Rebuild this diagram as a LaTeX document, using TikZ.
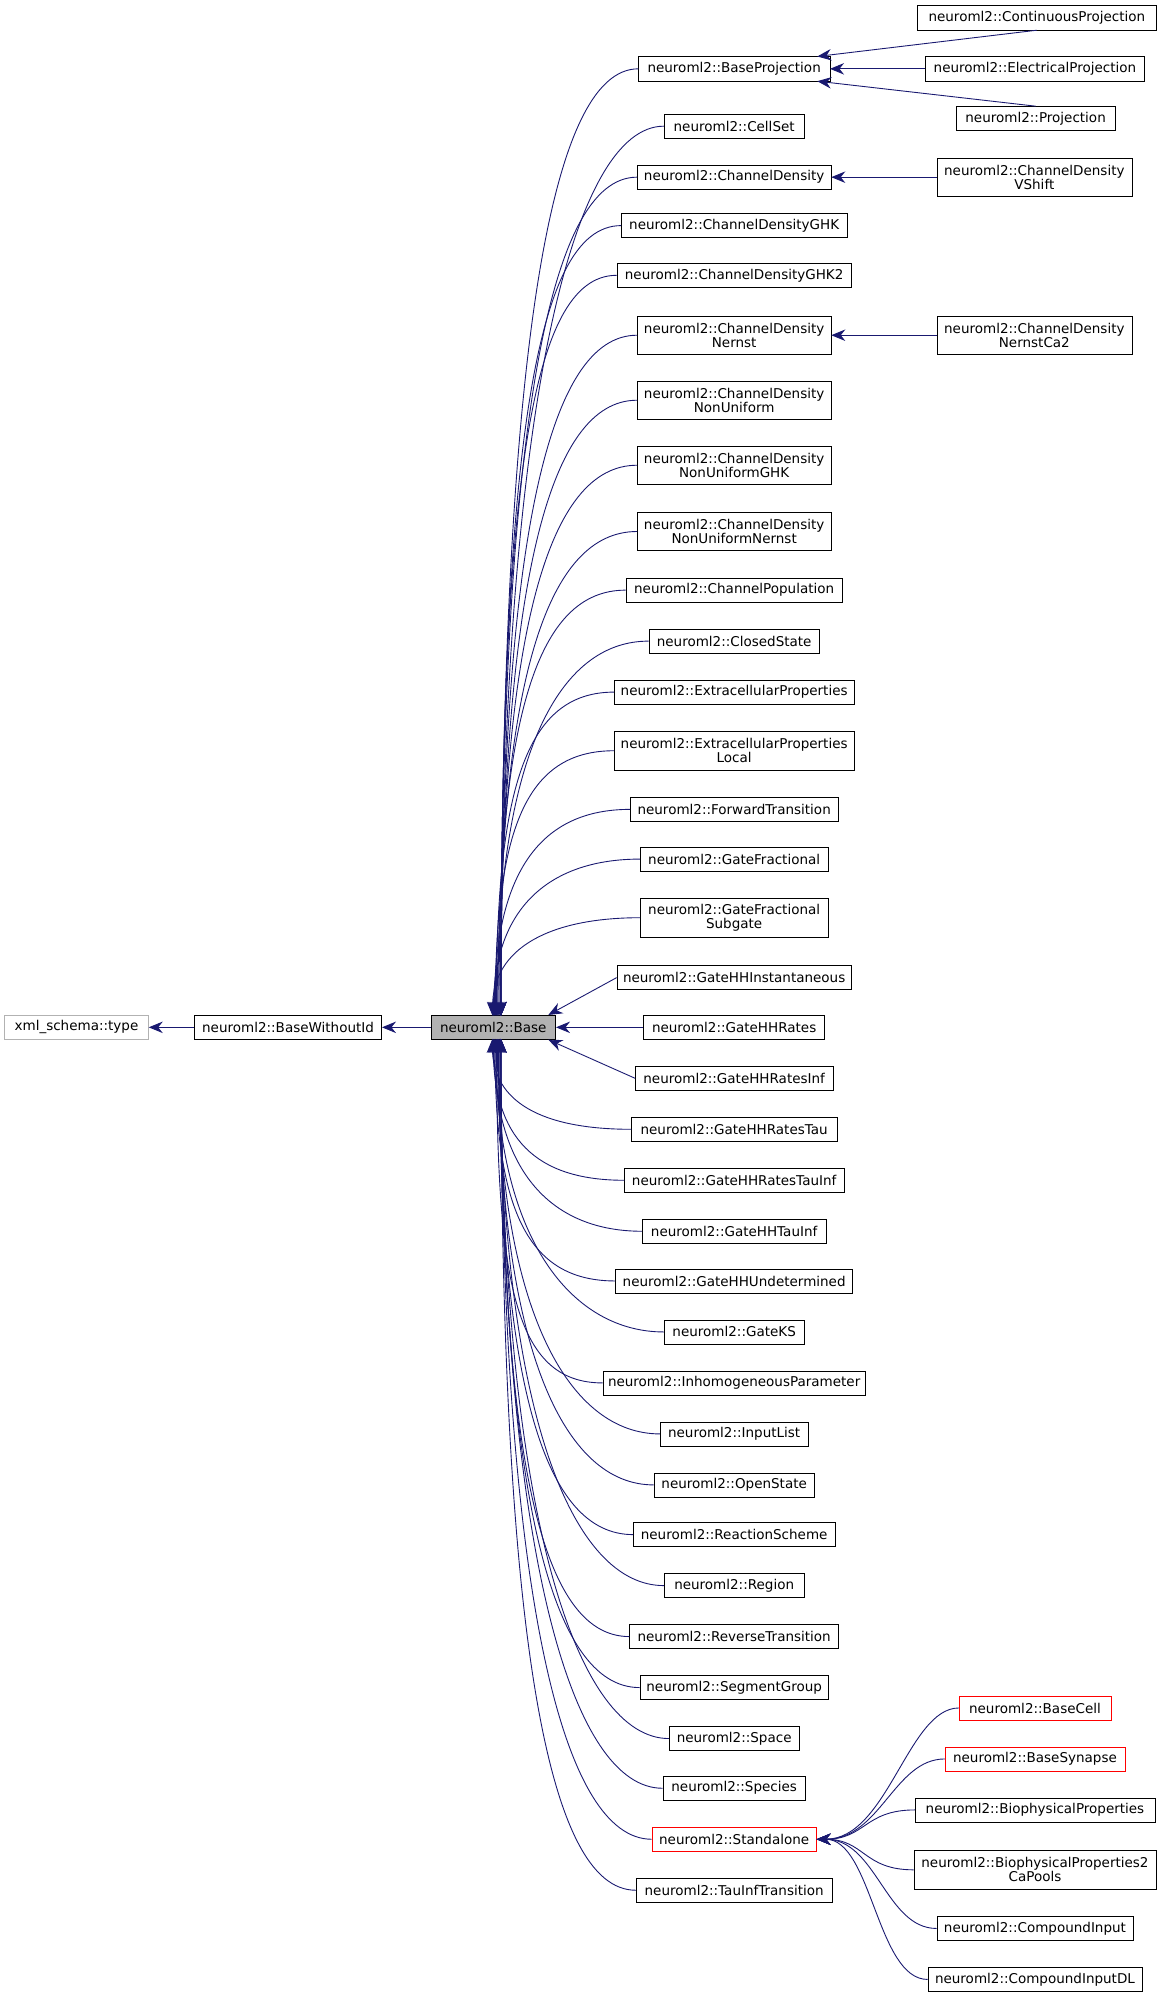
\documentclass[tikz,border=0pt]{standalone}
\usepackage{fontspec}
\setmainfont{DejaVu Sans}
\usetikzlibrary{arrows.meta}
\definecolor{edgec}{RGB}{25,25,112}
\begin{document}
\begin{tikzpicture}[x=1pt,y=-1pt,
  box/.style={draw=black,fill=white,inner sep=0pt,minimum height=19pt,align=center,font=\fontsize{10.6}{11}\selectfont},
  boxtwo/.style={box,minimum height=30pt},
  redbox/.style={box,draw=red},
  arr/.style={draw=edgec,line width=0.7pt,{Stealth[length=11pt,width=9pt]}-}]
\useasboundingbox (0,0) rectangle (910,1566);
\node[box,draw=gray!60,minimum width=113pt] (xml) at (60,806) {xml\_schema::type};
\node[box,minimum width=147pt] (bwi) at (226,806) {neuroml2::BaseWithoutId};
\node[box,fill=gray!60,minimum width=98pt] (base) at (387,806) {neuroml2::Base};
\draw[arr] (xml) -- (bwi);
\draw[arr] (bwi) -- (base);
\foreach \n/\y/\w/\s/\t in {
 bp/54/150/box/{neuroml2::BaseProjection},
 cs/99/110/box/{neuroml2::CellSet},
 cd/139/152/box/{neuroml2::ChannelDensity},
 cdg/177/177/box/{neuroml2::ChannelDensityGHK},
 cdg2/216/184/box/{neuroml2::ChannelDensityGHK2},
 cdn/263/152/boxtwo/{neuroml2::ChannelDensity\\Nernst},
 cdnu/314/152/boxtwo/{neuroml2::ChannelDensity\\NonUniform},
 cdnug/365/152/boxtwo/{neuroml2::ChannelDensity\\NonUniformGHK},
 cdnun/417/152/boxtwo/{neuroml2::ChannelDensity\\NonUniformNernst},
 cp/463/170/box/{neuroml2::ChannelPopulation},
 cls/503/134/box/{neuroml2::ClosedState},
 ep/543/188/box/{neuroml2::ExtracellularProperties},
 epl/589/188/boxtwo/{neuroml2::ExtracellularProperties\\Local},
 ft/635/163/box/{neuroml2::ForwardTransition},
 gf/674/147/box/{neuroml2::GateFractional},
 gfs/720/147/boxtwo/{neuroml2::GateFractional\\Subgate},
 gks/1045/110/box/{neuroml2::GateKS},
 ip/1085/206/box/{neuroml2::InhomogeneousParameter},
 il/1125/116/box/{neuroml2::InputList},
 os/1165/126/box/{neuroml2::OpenState},
 rs/1204/158/box/{neuroml2::ReactionScheme},
 rg/1244/110/box/{neuroml2::Region},
 rt/1284/164/box/{neuroml2::ReverseTransition},
 sg/1324/148/box/{neuroml2::SegmentGroup},
 sp/1364/102/box/{neuroml2::Space},
 spc/1403/112/box/{neuroml2::Species},
 sa/1443/129/redbox/{neuroml2::Standalone},
 tit/1483/154/box/{neuroml2::TauInfTransition},
 ghu/1005/186/box/{neuroml2::GateHHUndetermined},
 ghti/966/144/box/{neuroml2::GateHHTauInf},
 ghrti/926/172/box/{neuroml2::GateHHRatesTauInf},
 ghrt/886/161/box/{neuroml2::GateHHRatesTau}}
{
 \node[\s,minimum width=\w pt] (\n) at (576,\y) {\t};
 \pgfmathsetmacro{\dy}{\y-806}
 \pgfmathsetmacro{\ex}{385+min(8,abs(\dy)/60)}
 \ifdim\dy pt<0pt
   \draw[arr] (\ex,797) .. controls (\ex,{797+0.7*(\y-797)}) and ({576-\w/2-70},\y) .. (\n.west);
 \else
   \draw[arr] (\ex,815) .. controls (\ex,{815+0.7*(\y-815)}) and ({576-\w/2-70},\y) .. (\n.west);
 \fi
}
\node[box,minimum width=184pt] (ghi) at (576,767) {neuroml2::GateHHInstantaneous};
\node[box,minimum width=142pt] (ghr) at (576,806) {neuroml2::GateHHRates};
\node[box,minimum width=155pt] (ghri) at (576,846) {neuroml2::GateHHRatesInf};
\draw[arr] (base.north east) ++(-6,0) -- (ghi.west);
\draw[arr] (base.east) -- (ghr.west);
\draw[arr] (base.south east) ++(-6,0) -- (ghri.west);
\node[box,minimum width=187pt] (cpj) at (813.5,14) {neuroml2::ContinuousProjection};
\node[box,minimum width=172pt] (epj) at (812,54) {neuroml2::ElectricalProjection};
\node[box,minimum width=125pt] (pj) at (812.5,93) {neuroml2::Projection};
\node[boxtwo,minimum width=153pt] (vs) at (811.5,139) {neuroml2::ChannelDensity\\VShift};
\node[boxtwo,minimum width=153pt] (nca) at (811.5,263) {neuroml2::ChannelDensity\\NernstCa2};
\draw[arr] (bp.north east) ++(-10,0) -- (cpj.south);
\draw[arr] (bp.east) -- (epj.west);
\draw[arr] (bp.south east) ++(-10,0) -- (pj.north);
\draw[arr] (cd.east) -- (vs.west);
\draw[arr] (cdn.east) -- (nca.west);
\foreach \n/\y/\w/\s/\t in {
 bc/1340/119/redbox/{neuroml2::BaseCell},
 bs/1380/141/redbox/{neuroml2::BaseSynapse},
 bpp/1420/188/box/{neuroml2::BiophysicalProperties},
 bp2/1467/190/boxtwo/{neuroml2::BiophysicalProperties2\\CaPools},
 ci/1513/154/box/{neuroml2::CompoundInput},
 cidl/1553/168/box/{neuroml2::CompoundInputDL}}
{
 \node[\s,minimum width=\w pt] (\n) at (812,\y) {\t};
 \draw[arr] (sa.east) .. controls ({640+0.5*(812-\w/2-640)},1443) and ({812-\w/2-40},\y) .. (\n.west);
}
\end{tikzpicture}
\end{document}
